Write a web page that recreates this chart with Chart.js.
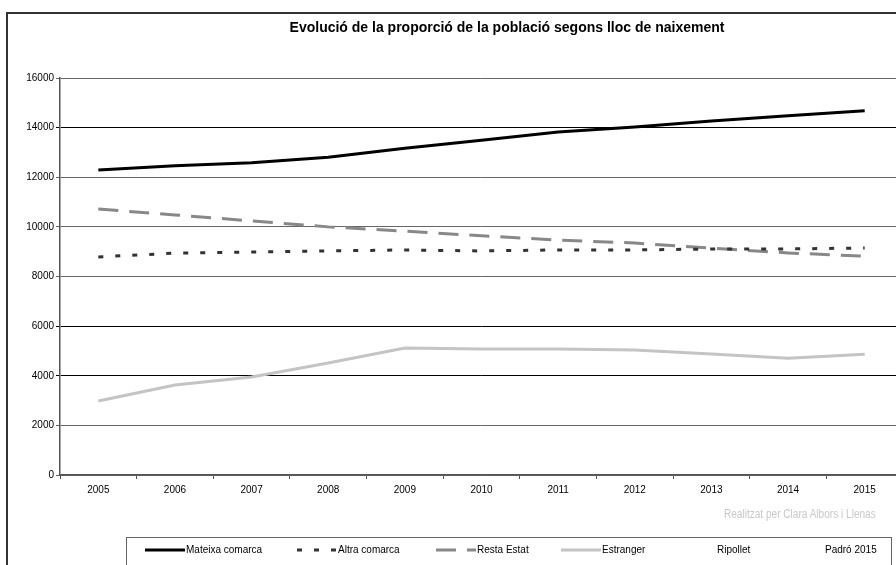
<!DOCTYPE html>
<html>
<head>
<meta charset="utf-8">
<script src="https://cdn.jsdelivr.net/npm/chart.js@4.4.0/dist/chart.umd.min.js"></script>
<style>
  body { margin: 0; width: 896px; height: 565px; overflow: hidden; position: relative; background: #fff; font-family: "Liberation Sans", Arial, sans-serif; }
  #frame { position: absolute; left: 6px; top: 12px; width: 1000px; height: 600px; border: 2px solid #333; }
  #chart { position: absolute; left: 0; top: 0; }
  #title { position: absolute; left: 0; width: 1014px; top: 19px; text-align: center; font-weight: bold; font-size: 14px; color: #000; }
  #credit { position: absolute; right: 20px; top: 507px; font-size: 12px; color: #c8c8c8; transform: scaleX(0.84); transform-origin: right center; white-space: nowrap; }
  #legend { position: absolute; left: 126px; top: 537px; width: 764px; height: 40px; border: 1.5px solid #666; }
  .item { position: absolute; top: 6px; font-size: 10px; color: #000; white-space: nowrap; }
  .item svg { vertical-align: middle; margin-right: 1px; }
</style>
</head>
<body>
<div id="frame"></div>
<canvas id="chart" width="903" height="565"></canvas>
<div id="title">Evolució de la proporció de la població segons lloc de naixement</div>
<div id="credit">Realitzat per Clara Albors i Llenas</div>
<div id="legend"></div>
<script>
// years on the x axis
const years = ['2005', '2006', '2007', '2008', '2009', '2010', '2011', '2012', '2013', '2014', '2015'];

// series
const mateixaComarca = [12290, 12460, 12580, 12810, 13170, 13490, 13820, 14030, 14270, 14480, 14680];
const altraComarca = [8790, 8940, 8990, 9030, 9070, 9030, 9070, 9070, 9110, 9110, 9150];
const restaEstat = [10720, 10480, 10240, 10000, 9830, 9640, 9470, 9350, 9140, 8950, 8820];
const estranger = [2980, 3630, 3950, 4510, 5120, 5080, 5080, 5040, 4880, 4710, 4870];

const yTicks = [0, 2000, 4000, 6000, 8000, 10000, 12000, 14000, 16000];

const series = [
    { label: 'Mateixa comarca', data: mateixaComarca, color: '#000000', dash: [], width: 3 },
    { label: 'Altra comarca', data: altraComarca, color: '#333333', dash: [5, 12], width: 3 },
    { label: 'Resta Estat', data: restaEstat, color: '#888888', dash: [20, 11], width: 3 },
    { label: 'Estranger', data: estranger, color: '#c4c4c4', dash: [], width: 3 }
];

const ctx = document.getElementById('chart').getContext('2d');
const chart = new Chart(ctx, {
    type: 'line',
    data: {
        labels: years,
        datasets: series.map(s => ({
            label: s.label,
            data: s.data,
            borderColor: s.color,
            backgroundColor: s.color,
            borderDash: s.dash,
            borderWidth: s.width,
            pointRadius: 0,
            tension: 0,
            fill: false
        }))
    },
    options: {
        responsive: false,
        devicePixelRatio: 1,
        animation: false,
        layout: { padding: { top: 78, left: 0, right: 0, bottom: 0 } },
        plugins: {
            legend: { display: false },
            title: { display: false },
            tooltip: { enabled: false }
        },
        scales: {
            x: {
                offset: true,
                grid: { offset: true, drawOnChartArea: false, tickLength: 4, color: '#555' },
                border: { color: '#555', width: 1.5 },
                ticks: { color: '#000', padding: 5, font: { family: 'Liberation Sans', size: 10 } },
                afterFit: scale => { scale.height = 90; }
            },
            y: {
                min: 0,
                max: 16000,
                afterBuildTicks: scale => { scale.ticks = yTicks.map(v => ({ value: v })); },
                grid: {
                    tickLength: 4,
                    color: c => [4000, 6000, 14000].includes(c.tick && c.tick.value) ? '#000' : '#666'
                },
                border: { color: '#555', width: 1.5 },
                ticks: {
                    color: '#000',
                    padding: 2,
                    font: { family: 'Liberation Sans', size: 10 },
                    callback: v => String(v)
                },
                afterFit: scale => { scale.width = 60; }
            }
        }
    }
});

// legend like the original table under the chart
const legendPos = [18, 170, 309, 434];
const legend = document.getElementById('legend');
series.forEach((s, i) => {
    const el = document.createElement('div');
    el.className = 'item';
    el.style.left = legendPos[i] + 'px';
    el.innerHTML = '<svg width="40" height="6"><line x1="0" y1="3" x2="40" y2="3" stroke="' + s.color +
        '" stroke-width="' + s.width + '" stroke-dasharray="' + (s.dash.length ? s.dash.join(',') : 'none') + '"/></svg>' + s.label;
    legend.appendChild(el);
});
[['Ripollet', 590], ['Padró 2015', 698]].forEach(t => {
    const el = document.createElement('div');
    el.className = 'item';
    el.style.left = t[1] + 'px';
    el.textContent = t[0];
    legend.appendChild(el);
});
</script>
</body>
</html>
